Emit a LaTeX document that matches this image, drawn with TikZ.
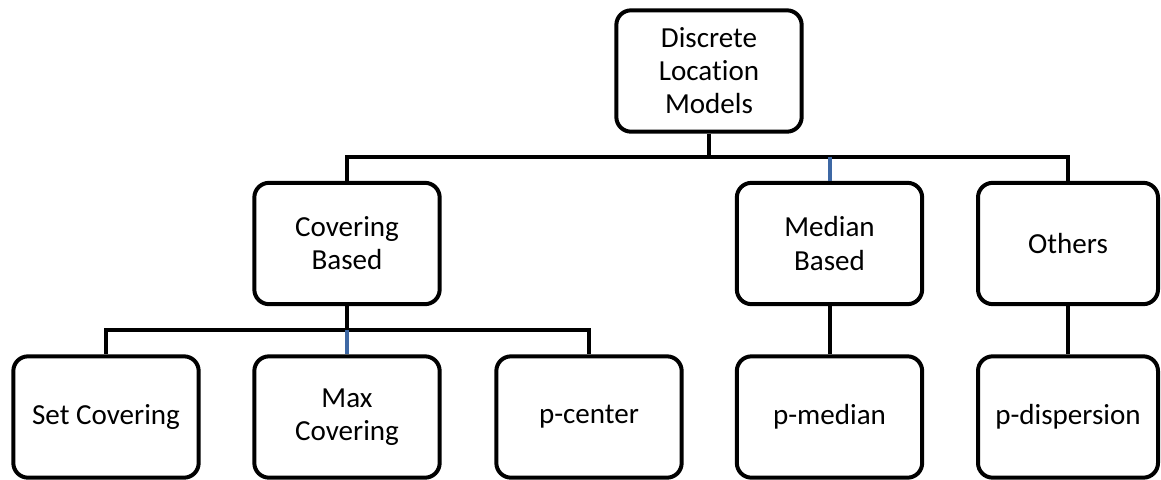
\documentclass[tikz,border=0pt]{standalone}
\usepackage{fontspec}
\setmainfont{Carlito}[Ligatures=NoCommon]
\definecolor{linkblue}{RGB}{62,104,164}

\tikzset{
  box/.style={
    draw,rounded corners=11pt,line width=3pt,fill=white,
    minimum width=139pt,minimum height=91pt,
    align=center,font=\fontsize{21.8}{24.8}\selectfont,
  },
  link/.style={line width=3pt},
  bluelink/.style={line width=3pt,draw=linkblue},
}

\begin{document}
\begin{tikzpicture}[x=0.75pt,y=-0.75pt]
    \useasboundingbox (0,0) rectangle (1161,479);

    \node[box] (top)    at (709,71)     {Discrete\\Location\\Models};

    \node[box] (cov)    at (347,243.5)  {Covering\\Based};
    \node[box] (med)    at (829.5,243.5){Median\\Based};
    \node[box,minimum width=135pt] (others) at (1068,243.5) {Others};

    \node[box] (setc)   at (106,417)    {Set Covering};
    \node[box] (maxc)   at (347,417)    {Max\\Covering};
    \node[box] (pcent)  at (589,417)    {p-center};
    \node[box] (pmed)   at (829.5,417)  {p-median};
    \node[box,minimum width=135pt] (pdisp) at (1068,417) {p-dispersion};

    \coordinate (bar1) at (709,157);
    \coordinate (bar2) at (347,330);

    \draw[link] (top) -- (bar1);
    \draw[link] (bar1) -| (cov);
    \draw[link] (bar1) -| (others);
    \draw[bluelink] (bar1 -| med) -- (med);

    \draw[link] (cov) -- (bar2);
    \draw[link] (bar2) -| (setc);
    \draw[link] (bar2) -| (pcent);
    \draw[bluelink] (bar2) -- (maxc);

    \draw[link] (med) -- (pmed);
    \draw[link] (others) -- (pdisp);
  \end{tikzpicture}
\end{document}
